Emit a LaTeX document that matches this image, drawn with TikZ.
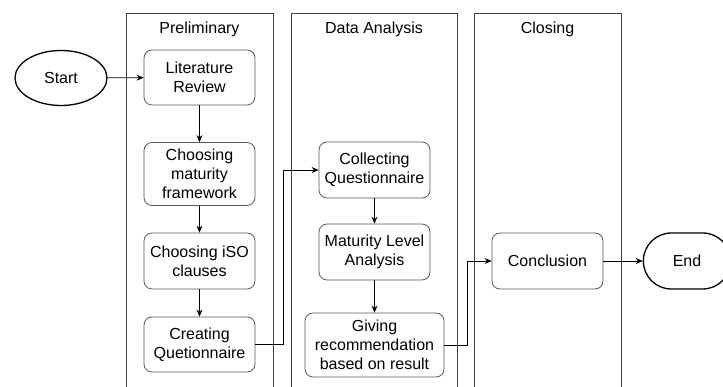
\documentclass[tikz,border=0pt]{standalone}
\usepackage{fontspec}
\setmainfont{Liberation Sans}
\usetikzlibrary{arrows.meta,shapes.geometric,shapes.misc}
\begin{document}
\begin{tikzpicture}[x=1pt,y=-1pt,
  font=\fontsize{16}{19}\selectfont,
  lane/.style={draw=black!75,line width=0.9pt},
  stepbox/.style={draw=black!65,line width=0.8pt,rounded corners=8pt,align=center,
    inner sep=2pt,minimum width=111pt,minimum height=56pt},
  terminal/.style={draw=black,line width=1.3pt,minimum width=92pt,minimum height=55pt},
  flow/.style={-{Stealth[length=7pt,width=6pt]},line width=0.8pt}]
\useasboundingbox (0,0) rectangle (723,387);

% swimlanes
\foreach \l/\r/\t in {126/273/Preliminary,291/457/Data Analysis,474/621/Closing}{
  \draw[lane] (\l,395) |- (\r,13) -- (\r,395);
  \node (title-\t) at ({(\l+\r)/2},29) {\t};
}

\node[terminal,ellipse] (start) at (61,78) {Start};
\node[terminal,rounded rectangle,minimum width=94pt,minimum height=56pt] (end) at (687,261) {End};

\node[stepbox,minimum height=55pt] (lit) at (199.5,77.5) {Literature\\Review};
\node[stepbox,minimum height=63pt] (frame) at (199.5,174) {Choosing\\maturity\\framework};
\node[stepbox] (iso) at (199.5,261) {Choosing iSO\\clauses};
\node[stepbox,minimum height=55pt] (quest) at (199.5,344.5) {Creating\\Quetionnaire};

\node[stepbox] (collect) at (374.5,170) {Collecting\\Questionnaire};
\node[stepbox] (level) at (374.5,252) {Maturity Level\\Analysis};
\node[stepbox,minimum width=139pt,minimum height=64pt] (recom) at (374.5,345) {Giving\\recommendation\\based on result};

\node[stepbox] (concl) at (547.5,261) {Conclusion};

\draw[flow] (start) -- (lit);
\draw[flow] (lit) -- (frame);
\draw[flow] (frame) -- (iso);
\draw[flow] (iso) -- (quest);
\draw[flow] (quest.east) -- ([xshift=28pt]quest.east) |- (collect.west);
\draw[flow] (collect) -- (level);
\draw[flow] (level) -- (recom);
\draw[flow] (recom.east) -- ([xshift=23pt]recom.east) |- (concl.west);
\draw[flow] (concl) -- (end);

\end{tikzpicture}
\end{document}
